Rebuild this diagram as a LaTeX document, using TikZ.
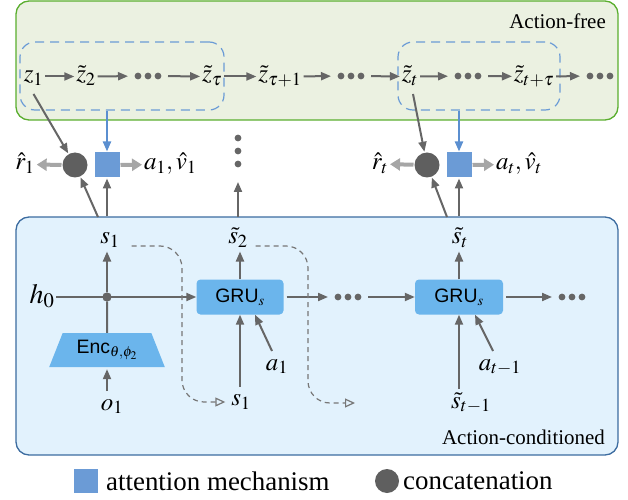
\documentclass[tikz,border=0pt]{standalone}
\usepackage{mathptmx}
\usepackage{fontspec}
\setmainfont{Liberation Serif}
\setsansfont{Liberation Sans}
\usetikzlibrary{arrows.meta,shapes.geometric}
\definecolor{gcol}{HTML}{666666}
\definecolor{lgcol}{HTML}{A6A6A6}
\definecolor{dcol}{HTML}{777777}
\definecolor{bcol}{HTML}{5B8FD0}
\definecolor{grn}{HTML}{5AAE2E}
\definecolor{grnf}{HTML}{EBF1E1}
\definecolor{blb}{HTML}{3C6CA0}
\definecolor{blf}{HTML}{E2F2FD}
\definecolor{winc}{HTML}{6A9BD6}
\definecolor{attc}{HTML}{6B9BD6}
\definecolor{gruc}{HTML}{6BB5EC}
\definecolor{catc}{HTML}{5F5F5F}
\newcommand\mfont{\fontsize{25}{29}\selectfont}
\newcommand\hfont{\fontsize{28}{32}\selectfont}
\newcommand\tfont{\fontsize{21}{25}\selectfont}
\newcommand\lfont{\fontsize{27}{31}\selectfont}
\newcommand\sfont{\sffamily\fontsize{19.5}{22}\selectfont}
\tikzset{
  lab/.style={font=\mfont, inner sep=1bp, outer sep=1bp, text height=17bp, text depth=6bp},
  ttl/.style={font=\tfont, inner sep=0pt},
  leg/.style={font=\lfont, inner sep=2bp},
  panel/.style={rounded corners=13bp, line width=1.3bp},
  win/.style={draw=winc, line width=1.2bp, dash pattern=on 9bp off 6bp, rounded corners=15bp},
  arr/.style={draw=gcol, line width=2bp, -{Triangle[length=10bp,width=8bp]}},
  plain/.style={draw=gcol, line width=2bp},
  oarr/.style={draw=lgcol, line width=4bp, -{Triangle[length=10bp,width=12bp]}},
  barr/.style={draw=bcol, line width=2bp, -{Triangle[length=10bp,width=8bp]}},
  dsh/.style={draw=dcol, line width=1.2bp, dash pattern=on 5bp off 4bp, -{Triangle[open,length=10bp,width=9bp]}},
  hdots/.style={minimum width=28bp, minimum height=8bp, inner sep=0pt, outer sep=6bp,
    path picture={\foreach \dx in {-10,0,10} \fill[gcol] ([xshift=\dx bp]path picture bounding box.center) circle (3.4bp);}},
  vdots/.style={minimum width=8bp, minimum height=36bp, inner sep=0pt, outer sep=4bp,
    path picture={\foreach \dy in {-13,0,13} \fill[gcol] ([yshift=\dy bp]path picture bounding box.center) circle (3.4bp);}},
  attn/.style={fill=attc, minimum size=25bp, inner sep=0pt, outer sep=1bp},
  catn/.style={circle, fill=catc, minimum size=25bp, inner sep=0pt, outer sep=1bp},
  grubox/.style={fill=gruc, rounded corners=4bp, minimum width=87bp, minimum height=35bp, font=\sfont, inner sep=0pt},
  encs/.style={trapezium, trapezium angle=65, trapezium stretches=true, fill=gruc, minimum width=116bp, minimum height=34bp, inner sep=0pt, font=\sfont},
  jdot/.style={circle, fill=gcol, minimum size=9bp, inner sep=0pt}
}
\begin{document}
\begin{tikzpicture}[x=1bp,y=-1bp]
\useasboundingbox (0,0) rectangle (628,500);
% panels
\node[panel, draw=grn, fill=grnf, minimum width=602bp, minimum height=119bp] (free) at (317,60.5) {};
\node[panel, draw=blb, fill=blf, minimum width=602bp, minimum height=238bp] (cond) at (317,336) {};
\node[ttl, anchor=east] (freelbl) at (606,21) {Action-free};
\node[ttl, anchor=east] (condlbl) at (605,437) {Action-conditioned};
% attention windows
\node[win, minimum width=204bp, minimum height=68bp] (win1) at (122,76) {};
\node[win, minimum width=162bp, minimum height=68bp] (win2) at (479,76) {};
% z row
\node[lab] (z1) at (33.5,76.5) {$z_1$};
\node[lab] (z2) at (86,76.5) {$\tilde z_2$};
\node[hdots] (d1) at (148,76) {};
\node[lab] (ztau) at (212,76.5) {$\tilde z_\tau$};
\node[lab] (ztau1) at (280,76.5) {$\tilde z_{\tau+1}$};
\node[hdots] (d2) at (351,76) {};
\node[lab] (zt) at (410,76.5) {$\tilde z_t$};
\node[hdots] (d3) at (468,76) {};
\node[lab] (ztt) at (534,76.5) {$\tilde z_{t+\tau}$};
\node[hdots] (d4) at (600,76) {};
\draw[arr] (z1) -- (z2);
\draw[arr] (z2) -- (d1);
\draw[arr] (d1) -- (ztau);
\draw[arr] (ztau) -- (ztau1);
\draw[arr] (ztau1) -- (d2);
\draw[arr] (d2) -- (zt);
\draw[arr] (zt) -- (d3);
\draw[arr] (d3) -- (ztt);
\draw[arr] (ztt) -- (d4);
% middle row
\node[catn] (cat1) at (75,165) {};
\node[attn] (att1) at (107,165) {};
\node[lab] (r1) at (25,164.5) {$\hat r_1$};
\node[lab, anchor=west] (av1) at (142,164.5) {$a_1, \hat v_1$};
\node[vdots] (vd) at (238,151) {};
\node[catn] (cat2) at (427,165) {};
\node[attn] (att2) at (459,165) {};
\node[lab] (rt) at (380,164) {$\hat r_t$};
\node[lab, anchor=west] (avt) at (494,164.5) {$a_t, \hat v_t$};
\draw[oarr] (cat1) -- (r1);
\draw[oarr] (att1) -- (av1);
\draw[oarr] (cat2) -- (rt);
\draw[oarr] (att2) -- (avt);
\draw[barr] (win1.south -| att1) -- (att1);
\draw[barr] (win2.south -| att2) -- (att2);
\draw[arr] ([yshift=-4bp]z1.south) -- (cat1);
\draw[arr] ([xshift=3bp,yshift=-4bp]zt.south) -- (cat2);
\coordinate (b1) at (98,217);
\coordinate (b3) at (238,217);
\coordinate (b4) at (447,217);
\draw[arr] (b1) -- (cat1);
\draw[arr] (cond.north -| att1) -- (att1);
\draw[arr, shorten >=9bp] (b3) -- (vd);
\draw[arr] (b4) -- (cat2);
\draw[arr] (cond.north -| att2) -- (att2);
% bottom panel
\node[lab] (s1top) at (110,238) {$s_1$};
\node[lab, font=\hfont] (h0) at (42,298) {$h_0$};
\node[jdot] (jn) at (107,297) {};
\node[encs] (enc) at (107,350) {Enc$_{\theta,\phi_2}$};
\node[lab] (o1) at (112,404.5) {$o_1$};
\node[grubox] (gru1) at (240,297) {GRU$_s$};
\node[lab] (s2t) at (238,238) {$\tilde s_2$};
\node[lab] (s1bot) at (241,400) {$s_1$};
\node[lab] (a1) at (277,364.5) {$a_1$};
\node[hdots] (d5) at (348,297) {};
\node[grubox, minimum width=88bp] (gru2) at (459,297) {GRU$_s$};
\node[hdots] (d6) at (572,297) {};
\node[lab] (stt) at (460,238) {$\tilde s_t$};
\node[lab] (stm1) at (471,402.5) {$\tilde s_{t-1}$};
\node[lab] (atm1) at (500,364.5) {$a_{t-1}$};
\coordinate (e2) at (355,403);
\draw[arr] (h0.east |- jn) -- (gru1.west);
\draw[plain] (enc.north) -- (jn);
\node[jdot] at (jn) {};
\draw[arr] (jn) -- (jn |- s1top.south);
\draw[arr, shorten >=2bp] (o1.north -| enc.south) -- (enc.south);
\draw[arr] (gru1.north) -- (gru1.north |- s2t.south);
\draw[arr] (s1bot.north -| gru1.south) -- (gru1.south);
\draw[arr] ([xshift=-5bp]a1.north) -- ([xshift=15bp]gru1.south);
\draw[arr, shorten <=3bp] (gru1.east) -- (d5.west);
\draw[arr] (d5.east) -- (gru2.west);
\draw[arr, shorten <=3bp] (gru2.east) -- (d6.west);
\draw[arr] (gru2.north) -- (gru2.north |- stt.south);
\draw[arr] (stm1.north -| gru2.south) -- (gru2.south);
\draw[arr] ([xshift=-7bp]atm1.north) -- ([xshift=16bp]gru2.south);
\draw[dsh, rounded corners=22bp] ([xshift=10bp,yshift=-8bp]s1top.east) -| (182,330) |- ([xshift=-4bp,yshift=-2bp]s1bot.west);
\draw[dsh, rounded corners=22bp] ([xshift=6bp,yshift=-8bp]s2t.east) -| (308,330) |- (e2);
% legend
\node[attn, minimum size=24bp] (lgatt) at (86,481) {};
\node[leg, anchor=west] (lgatttxt) at (104,481) {attention mechanism};
\node[catn, minimum size=24bp] (lgcat) at (387,481) {};
\node[leg, anchor=west] (lgcattxt) at (401,481) {concatenation};
\end{tikzpicture}
\end{document}
